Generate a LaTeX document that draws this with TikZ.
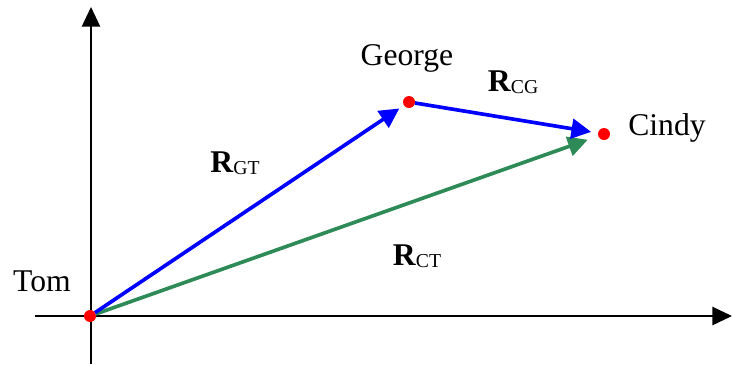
\documentclass[tikz,border=0pt]{standalone}
\usepackage{fontspec}
\setmainfont{Liberation Serif}
\usetikzlibrary{arrows.meta}
\definecolor{vecgreen}{RGB}{46,139,87}
\newcommand{\vecname}[2]{\textbf{#1}\raisebox{-1.5pt}{\fontsize{14}{16}\selectfont #2}}
\tikzset{
  dot/.style={circle, fill=red, inner sep=0pt, minimum size=0.3cm, outer sep=0pt},
  axis/.style={line width=1.3pt, -{Triangle[length=14pt, width=13pt]}},
  vec/.style={line width=2.6pt, -{Triangle[length=14pt, width=14pt]}},
  lbl/.style={font=\fontsize{22.5}{26}\selectfont}
}
\begin{document}
\begin{tikzpicture}[x=0.025cm, y=-0.025cm]
        \useasboundingbox (0,0) rectangle (732,364);
        \coordinate (ybot) at (91,364);
        \coordinate (ytop) at (91,7);
        \coordinate (xleft) at (35,316);
        \coordinate (xright) at (732,316);
        \draw[axis] (ybot) -- (ytop);
        \draw[axis] (xleft) -- (xright);

        \node[dot] (tom) at (90,316) {};
        \node[dot] (george) at (409,102) {};
        \node[dot] (cindy) at (604,134) {};

        \draw[vec, vecgreen, shorten >=8pt] (tom) -- (cindy);
        \draw[vec, blue, shorten >=4pt] (tom) -- (george);
        \draw[vec, blue, shorten >=5pt] (george) -- (cindy);

        \node[lbl] (tomlbl) at (42,281) {Tom};
        \node[lbl] (georgelbl) at (407,58) {George};
        \node[lbl] (cindylbl) at (667,128) {Cindy};
        \node[lbl] (rgt) at (235,163) {\vecname{R}{GT}};
        \node[lbl] (rcg) at (513,82) {\vecname{R}{CG}};
        \node[lbl] (rct) at (417,256) {\vecname{R}{CT}};
    \end{tikzpicture}
\end{document}
